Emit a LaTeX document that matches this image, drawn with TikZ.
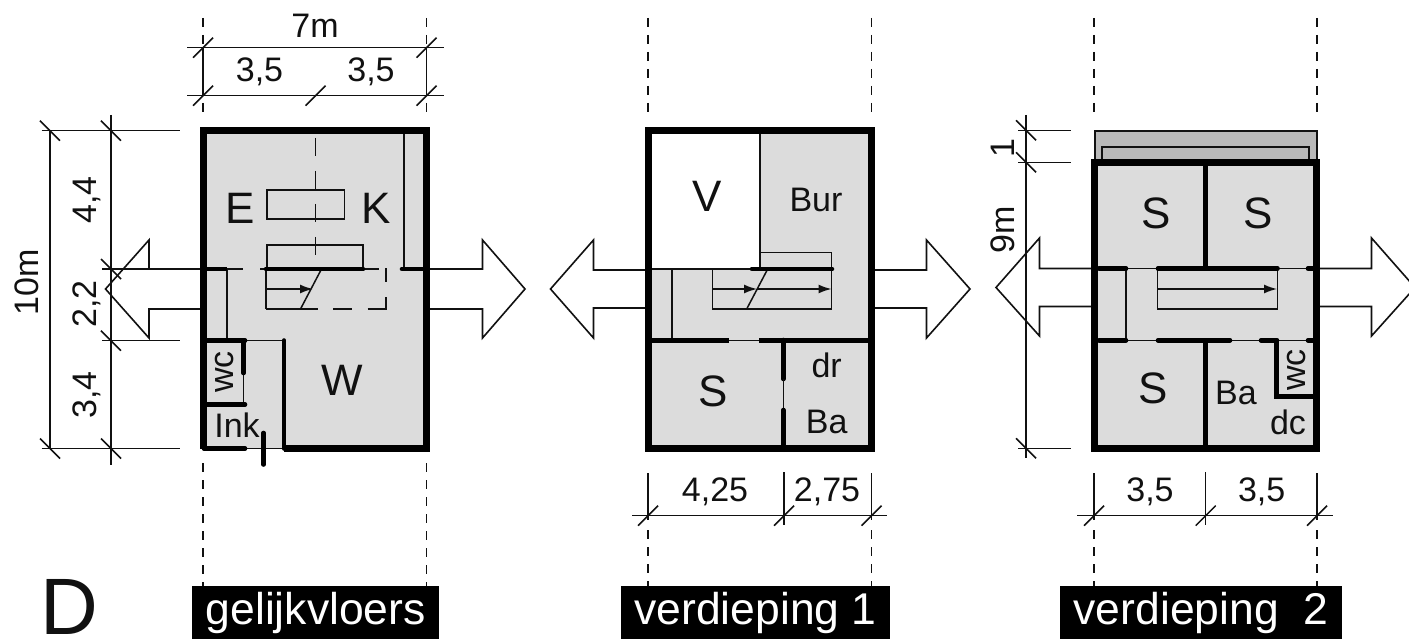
\documentclass[tikz,border=0pt]{standalone}
\usepackage{fontspec}
\setmainfont{Liberation Sans}
\usetikzlibrary{arrows.meta}
\definecolor{floorgray}{HTML}{DCDCDC}
\definecolor{roofgray}{HTML}{B9B9B9}
\definecolor{ink}{HTML}{111111}
\tikzset{
  thin line/.style={draw=ink,line width=1.5pt},
  mid line/.style={draw=ink,line width=2pt},
  seg/.style={draw=black,line width=4.6pt,line cap=round},
  wall/.style={draw=black,line width=7pt,line join=miter},
  axis/.style={draw=ink,line width=1.5pt,dash pattern=on 9pt off 8pt},
  room/.style={inner sep=0pt,text=ink,font=\fontsize{44}{48}\selectfont},
  small/.style={inner sep=0pt,text=ink,font=\fontsize{34}{38}\selectfont},
  title/.style={fill=black,text=white,inner sep=0pt,minimum height=52.5pt,font=\fontsize{44.5}{48}\selectfont},
  flow/.style={draw=ink,line width=1.6pt,line join=miter},
  stairtip/.style={-{Latex[length=13pt,width=9pt]}},
}
\newcommand{\tickf}[2]{\draw[thin line] (#1-10,#2+10) -- (#1+10,#2-10);}
\newcommand{\tickb}[2]{\draw[thin line] (#1-10,#2-10) -- (#1+10,#2+10);}
\begin{document}
\begin{tikzpicture}[x=1pt,y=-1pt]
\useasboundingbox (0,0) rectangle (1409,639);
\clip (0,0) rectangle (1409,639);
\fill[white] (0,0) rectangle (1409,639);

% ---- axes
\foreach \x in {203,426.5,648,871.5,1094,1317}{
  \draw[axis] (\x,18) -- (\x,118);
}
\foreach \x in {203,426.5}{\draw[axis] (\x,463) -- (\x,587);}
\foreach \x in {648,871.5,1094,1317}{\draw[axis] (\x,530) -- (\x,587);}

% ---- flow arrows
\draw[flow] (200,269) -- (149,269) -- (149,240) -- (105.5,289) -- (149,338) -- (149,309) -- (200,309);
\draw[flow] (429,269) -- (482.5,269) -- (482.5,240) -- (525,289) -- (482.5,338) -- (482.5,309) -- (429,309);
\draw[flow] (645,270) -- (593.5,270) -- (593.5,240) -- (550.5,289) -- (593.5,338) -- (593.5,308) -- (645,308);
\draw[flow] (874,270) -- (926.5,270) -- (926.5,240) -- (970,289) -- (926.5,338) -- (926.5,308) -- (874,308);
\draw[flow] (1091,268.5) -- (1039.5,268.5) -- (1039.5,238) -- (996,287.5) -- (1039.5,336) -- (1039.5,306.5) -- (1091,306.5);
\draw[flow] (1320,268.5) -- (1371.5,268.5) -- (1371.5,238) -- (1415,287.5) -- (1371.5,336) -- (1371.5,306.5) -- (1320,306.5);

% ==== FLOOR 0
\fill[floorgray] (203,131) rectangle (426.5,448.5);
\draw[thin line] (404,131) -- (404,269);
\draw[thin line,dash pattern=on 18pt off 15pt] (315.6,138) -- (315.6,269);
\draw[thin line] (267,190) rectangle (344.5,219);
\draw[thin line] (267,269) |- (363,245) -- (363,269);
% stairs
\draw[thin line] (266,269) -- (266,309);
\draw[thin line,stairtip] (266,289) -- (313,289);
\draw[thin line] (300.5,309) -- (321.5,269);
\draw[thin line] (266,309) -- (317.5,309);
\draw[thin line] (333,309) -- (352,309);
\draw[thin line] (367.5,309) -- (386,309) -- (386,297);
\draw[thin line] (386,282) -- (386,268);
% thin partition
\draw[thin line] (227,269) -- (227,340.5);
\draw[thin line] (227,269) -- (243,269);
\draw[thin line] (260,269) -- (379,269);
\draw[thin line] (245,340.5) -- (284,340.5);
\draw[thin line] (243.5,372) -- (243.5,404);
\draw[thin line] (245,448.5) -- (284,448.5);
% thick pieces
\draw[seg,line cap=butt] (203,269) -- (227,269);
\draw[seg] (266,269) -- (363,269);
\draw[seg] (402,269) -- (426,269);
\draw[seg] (204,340.5) -- (245,340.5);
\draw[seg] (243.5,340.5) -- (243.5,373);
\draw[seg] (204,404.5) -- (245,404.5);
\draw[seg] (284,340.5) -- (284,448.5);
\draw[seg] (204,448.5) -- (245,448.5);
\draw[seg] (263.5,433) -- (263.5,464.5);
\draw[wall] (284,448.5) -- (426.5,448.5) -- (426.5,131) -- (203,131) -- (203,448.5);
% labels
\node[room] (lE) at (240,208) {E};
\node[room] (lK) at (376,208) {K};
\node[room] (lW) at (342.5,380) {W};
\node[small,rotate=90] (lwc0) at (225,372) {wc};
\node[small] (lInk) at (237,425) {Ink};

% floor-0 dimensions
\draw[thin line] (187,47.7) -- (444,47.7);
\draw[thin line] (187,95.7) -- (444,95.7);
\draw[thin line] (203,47.7) -- (203,95.7);
\draw[thin line] (426.5,47.7) -- (426.5,95.7);
\tickf{203}{47.7}\tickf{426.5}{47.7}\tickf{203}{95.7}\tickf{315.6}{95.7}\tickf{426.5}{95.7}
\node[small] (d7m) at (315,26) {7m};
\node[small] (d35a) at (259.5,72) {3,5};
\node[small] (d35b) at (371,72) {3,5};
\draw[thin line] (50,130.7) -- (50,448.5);
\draw[thin line] (111,115) -- (111,465);
\draw[thin line] (41.5,130.7) -- (180,130.7);
\draw[thin line] (102,269) -- (180,269);
\draw[thin line] (102,340.7) -- (180,340.7);
\draw[thin line] (41.5,448.5) -- (180,448.5);
\tickb{50}{130.7}\tickb{111}{130.7}\tickb{111}{269}\tickb{111}{340.7}\tickb{50}{448.5}\tickb{111}{448.5}
\node[small,rotate=90] (d10m) at (27,282) {10m};
\node[small,rotate=90] (d44) at (87,200) {4,4};
\node[small,rotate=90] (d22) at (87,304) {2,2};
\node[small,rotate=90] (d34) at (87,395) {3,4};

% ==== FLOOR 1
\fill[floorgray] (648.5,130.7) rectangle (871.5,448.5);
\fill[white] (648.5,130.7) rectangle (760,269);
\draw[thin line] (760,131) -- (760,269);
\draw[thin line] (760,252.7) -- (831.7,252.7) -- (831.7,309) -- (712.3,309) -- (712.3,269);
\draw[thin line] (648,269) -- (752,269);
\draw[thin line] (672,269) -- (672,340);
\draw[thin line,stairtip] (712.3,289) -- (757,289);
\draw[thin line,stairtip] (757,289) -- (831.5,289);
\draw[thin line] (746.7,309) -- (767.7,269);
\draw[seg] (752,269) -- (832,269);
\draw[seg,line cap=butt] (652,340.3) -- (729,340.3);
\draw[thin line] (729,340.3) -- (759,340.3);
\draw[seg,line cap=butt] (759,340.3) -- (868,340.3);
\draw[seg] (783.3,340) -- (783.3,379);
\draw[thin line] (783.3,379) -- (783.3,410);
\draw[seg] (783.3,410) -- (783.3,448);
\draw[wall] (648.5,130.7) rectangle (871.5,448.5);
\node[room] (lV) at (706.7,196.7) {V};
\node[small] (lBur) at (816,200) {Bur};
\node[small] (ldr) at (826.7,365) {dr};
\node[room] (lS1) at (712.7,391.7) {S};
\node[small] (lBa1) at (826.7,421.7) {Ba};
\draw[thin line] (632,515.7) -- (887,515.7);
\draw[thin line] (648,473) -- (648,520);
\draw[thin line] (784,472) -- (784,525);
\draw[thin line] (871.5,473) -- (871.5,520);
\tickf{648}{515.7}\tickf{784}{515.7}\tickf{871.5}{515.7}
\node[small] (d425) at (715,491.7) {4,25};
\node[small] (d275) at (827,491.7) {2,75};

% ==== FLOOR 2
\fill[roofgray] (1094.7,130.7) rectangle (1317.3,162.5);
\draw[mid line] (1094.7,162.5) |- (1317.3,130.7) -- (1317.3,162.5);
\draw[mid line] (1102.3,162.5) |- (1309.3,146.7) -- (1309.3,162.5);
\fill[floorgray] (1094.5,162.5) rectangle (1316.7,448.5);
\draw[mid line] (1126,268.5) -- (1126,340.3);
\draw[thin line] (1157.7,268.5) rectangle (1277.3,309);
\draw[thin line,stairtip] (1157.7,289) -- (1277,289);
\draw[thin line] (1098,268.5) -- (1313,268.5);
\draw[thin line] (1098,340.3) -- (1313,340.3);
\draw[seg,line cap=butt,line width=5pt] (1205.3,166) -- (1205.3,268);
\draw[seg,line cap=butt,line width=5pt] (1205.3,340) -- (1205.3,448);
\draw[seg] (1099,268.5) -- (1126,268.5);
\draw[seg] (1158,268.5) -- (1277.5,268.5);
\draw[seg] (1308,268.5) -- (1313,268.5);
\draw[seg] (1099,340.3) -- (1126,340.3);
\draw[seg] (1158,340.3) -- (1230,340.3);
\draw[seg] (1261,340.3) -- (1277,340.3);
\draw[seg] (1308,340.3) -- (1313,340.3);
\draw[seg,line join=miter,line cap=butt] (1276.7,340) -- (1276.7,396.5) -- (1314,396.5);
\draw[wall] (1094.5,162.5) rectangle (1316.7,448.5);
\node[room] (lS2) at (1155.7,213) {S};
\node[room] (lS3) at (1258,213) {S};
\node[room] (lS4) at (1152.7,388) {S};
\node[small] (lBa2) at (1236,392.7) {Ba};
\node[small] (ldc) at (1288,422.7) {dc};
\node[small,rotate=90] (lwc2) at (1296.7,370) {wc};
\draw[thin line] (1026,115) -- (1026,458);
\draw[thin line] (1018,130.3) -- (1070.7,130.3);
\draw[thin line] (1018,162.3) -- (1070.7,162.3);
\draw[thin line] (1018,448.3) -- (1070.7,448.3);
\tickb{1026}{130.3}\tickb{1026}{162.3}\tickb{1026}{448.3}
\node[small,rotate=90] (d1) at (1003,148) {1};
\node[small,rotate=90] (d9m) at (1002.7,230) {9m};
\draw[thin line] (1077,515.7) -- (1333,515.7);
\draw[thin line] (1094,473) -- (1094,520);
\draw[thin line] (1205.7,472) -- (1205.7,525);
\draw[thin line] (1317,473) -- (1317,520);
\tickf{1094}{515.7}\tickf{1205.7}{515.7}\tickf{1317}{515.7}
\node[small] (d35c) at (1150,491.7) {3,5};
\node[small] (d35d) at (1261.7,491.7) {3,5};

% ==== titles
\node[inner sep=0pt,text=ink,font=\fontsize{80}{80}\selectfont] (lD) at (69,607) {D};
\node[title,minimum width=247pt,anchor=south] (t0) at (315.7,639) {gelijkvloers};
\node[title,minimum width=269.5pt,anchor=south] (t1) at (755.5,639) {verdieping 1};
\node[title,minimum width=282pt,anchor=south] (t2) at (1201,639) {verdieping\ \ 2};
\end{tikzpicture}
\end{document}
